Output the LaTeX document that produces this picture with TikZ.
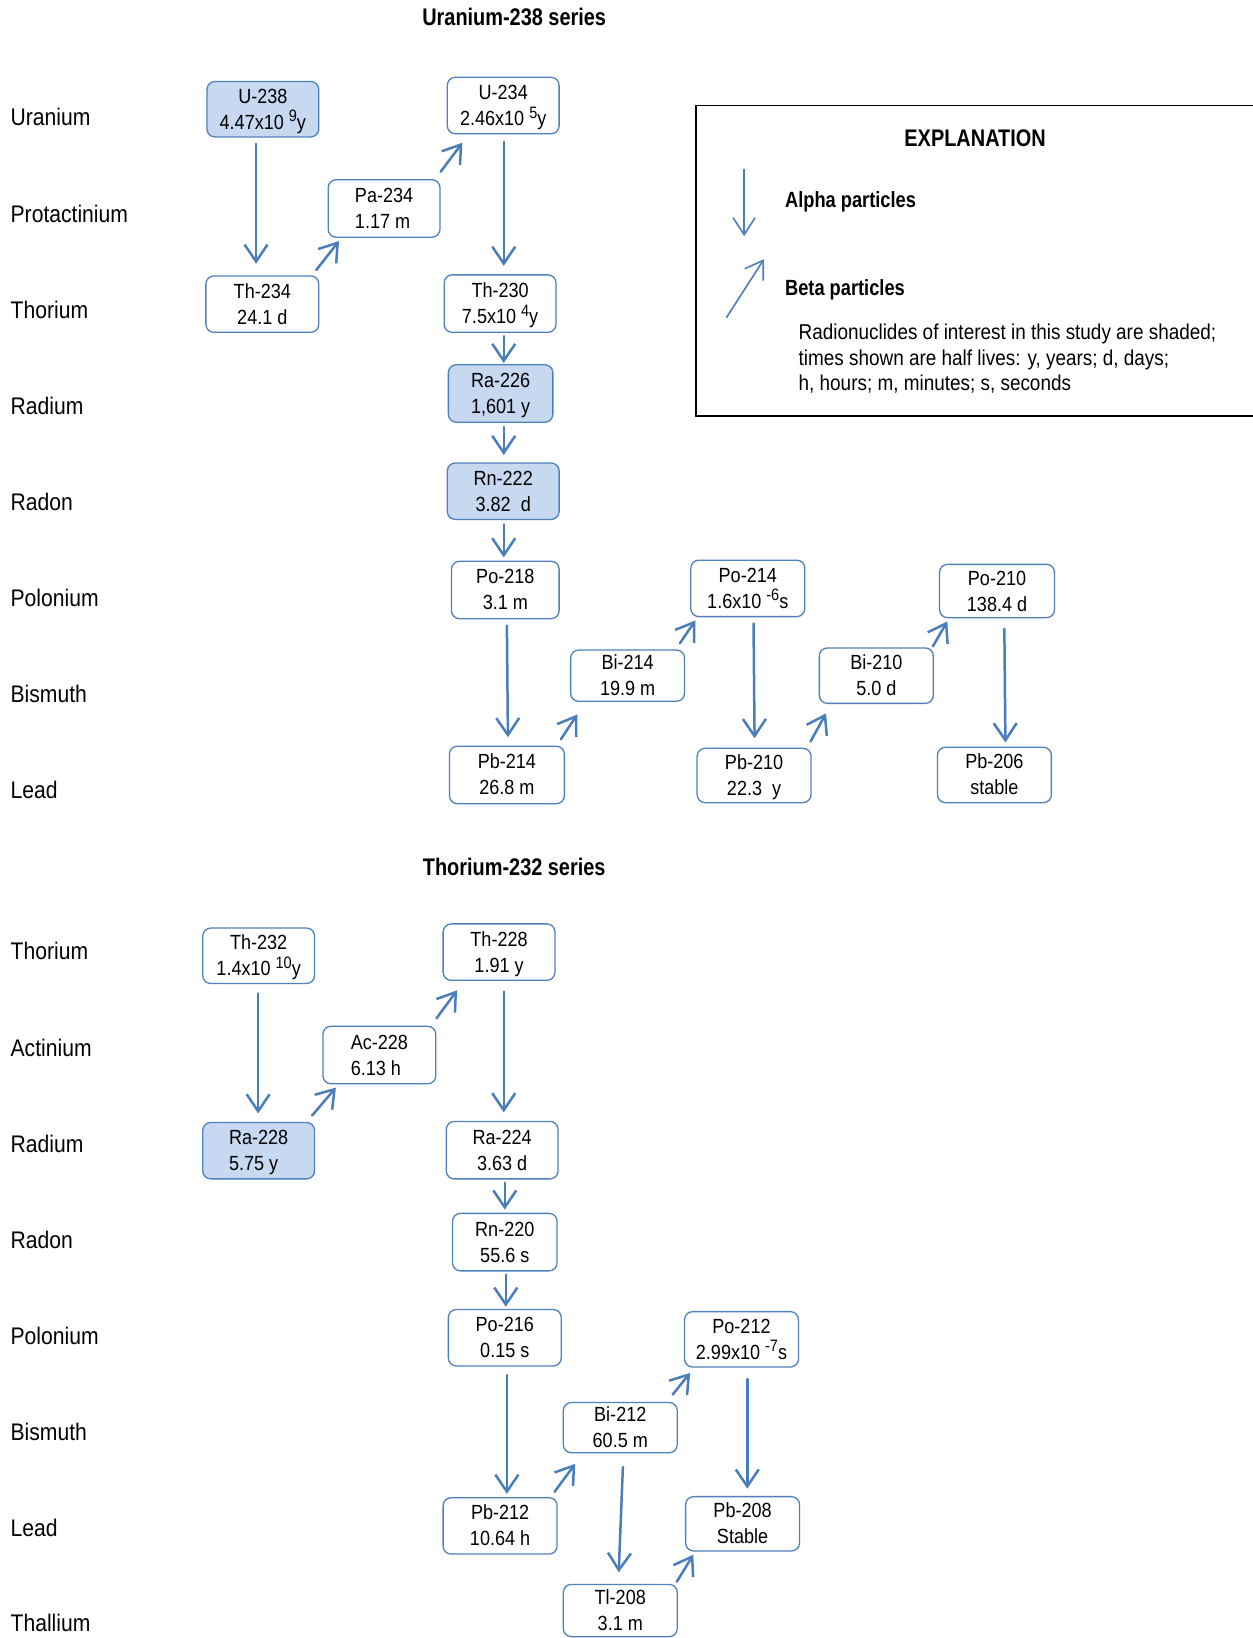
\documentclass[tikz,border=0pt]{standalone}
\usepackage{fontspec}
\setmainfont{Liberation Sans}[FakeStretch=0.88, BoldFeatures={FakeStretch=0.83}]
\usetikzlibrary{arrows.meta}
\definecolor{arrowblue}{RGB}{74,126,187}
\definecolor{boxblue}{RGB}{79,129,189}
\definecolor{shadeblue}{RGB}{198,217,241}
\newcommand\hsup[1]{\raisebox{7.5pt}{\fontsize{16.5}{16.5}\selectfont #1}}
\newcommand\nuctext[2]{\rule{0pt}{18.5pt}#1\\#2\rule[-4.5pt]{0pt}{4.5pt}}
\begin{document}
\begin{tikzpicture}[x=1.0451pt, y=-1.0451pt,
  nuc/.style={draw=boxblue, line width=1.3pt, rounded corners=8pt, inner sep=0pt,
    align=center, fill=white, font=\fontsize{20.5}{26}\selectfont},
  hl/.style={nuc, fill=shadeblue},
  sz/.style 2 args={minimum width={#1*1.0451pt}, minimum height={#2*1.0451pt}},
  decay/.style={draw=arrowblue, line width=2.5pt, line cap=round,
    -{Straight Barb[length=17pt,width=23pt]}},
  legendarrow/.style={draw=arrowblue, line width=1.6pt,
    -{Straight Barb[length=17pt,width=22pt]}},
  elem/.style={anchor=base west, inner sep=0pt, font=\fontsize{24}{28}\selectfont},
  ttl/.style={anchor=base, inner sep=0pt, font=\bfseries\fontsize{24}{28}\selectfont},
  legtxt/.style={anchor=base west, inner sep=0pt, font=\fontsize{21.5}{26}\selectfont},
  legbold/.style={anchor=base west, inner sep=0pt, font=\bfseries\fontsize{22}{26}\selectfont}]
\useasboundingbox[fill=white] (0,0) rectangle (1198,1567.3);

% ---------------- Uranium-238 series ----------------
\node[ttl] (t1) at (492,24) {Uranium-238 series};
\node[elem] (l1) at (10,120.5) {Uranium};
\node[elem] (l2) at (10,212.5) {Protactinium};
\node[elem] (l3) at (10,304.5) {Thorium};
\node[elem] (l4) at (10,396.5) {Radium};
\node[elem] (l5) at (10,488.5) {Radon};
\node[elem] (l6) at (10,580.5) {Polonium};
\node[elem] (l7) at (10,672.5) {Bismuth};
\node[elem] (l8) at (10,764.5) {Lead};

\node[hl, sz={107}{53}] (u238) at (251.5,104.5) {\nuctext{U-238}{4.47x10 \hsup{9}y}};
\node[nuc, sz={107}{54}] (u234) at (481.5,101) {\nuctext{U-234}{2.46x10 \hsup{5}y}};
\node[nuc, align=left, sz={107}{55}] (pa234) at (367.5,199.5) {\nuctext{Pa-234}{1.17 m}};
\node[nuc, sz={108}{54}] (th234) at (251,291) {\nuctext{Th-234}{24.1 d}};
\node[nuc, sz={107}{55}] (th230) at (478.5,290.5) {\nuctext{Th-230}{7.5x10 \hsup{4}y}};
\node[hl, sz={100}{55}] (ra226) at (479,376.5) {\nuctext{Ra-226}{1,601 y}};
\node[hl, sz={107}{54}] (rn222) at (481.5,470) {\nuctext{Rn-222}{3.82~ d}};
\node[nuc, sz={103}{55}] (po218) at (483.5,564.5) {\nuctext{Po-218}{3.1 m}};
\node[nuc, sz={110}{55}] (pb214) at (485,741.5) {\nuctext{Pb-214}{26.8 m}};
\node[nuc, sz={109}{49}] (bi214) at (600.5,646.5) {\nuctext{Bi-214}{19.9 m}};
\node[nuc, sz={109}{54}] (po214) at (715.5,563) {\nuctext{Po-214}{1.6x10 \hsup{-6}s}};
\node[nuc, sz={109}{52}] (pb210) at (721.5,742) {\nuctext{Pb-210}{22.3~ y}};
\node[nuc, sz={109}{53}] (bi210) at (838.5,646.5) {\nuctext{Bi-210}{5.0 d}};
\node[nuc, sz={110}{51}] (po210) at (954,565.5) {\nuctext{Po-210}{138.4 d}};
\node[nuc, sz={109}{53}] (pb206) at (951.5,741.5) {\nuctext{Pb-206}{stable}};

% alpha decays
\draw[decay] ([shift={(-6.5,6)}]u238.south) -- ([shift={(-6,-11)}]th234.north);
\draw[decay] ([shift={(0.5,7)}]u234.south) -- ([shift={(3.5,-8)}]th230.north);
\draw[decay] ([shift={(3.5,3)}]th230.south) -- ([shift={(3,-1)}]ra226.north);
\draw[decay] ([shift={(3,4)}]ra226.south) -- ([shift={(0.5,-7)}]rn222.north);
\draw[decay] ([shift={(0.5,4)}]rn222.south) -- ([shift={(-1.5,-3)}]po218.north);
\draw[decay] ([shift={(1.5,6)}]po218.south) -- ([shift={(1,-8)}]pb214.north);
\draw[decay] ([shift={(5.5,6)}]po214.south) -- ([shift={(0.5,-9)}]pb210.north);
\draw[decay] ([shift={(7,10)}]po210.south) -- ([shift={(10.5,-4)}]pb206.north);
% beta decays
\draw[decay] ([shift={(-3,-5)}]th234.north east) -- ([shift={(11,3)}]pa234.south west);
\draw[decay] ([shift={(0,-7)}]pa234.north east) -- ([shift={(15,8)}]u234.south west);
\draw[decay] ([shift={(-4,-6)}]pb214.north east) -- ([shift={(7,12)}]bi214.south west);
\draw[decay] ([shift={(-5,-6)}]bi214.north east) -- ([shift={(5,3)}]po214.south west);
\draw[decay] ([shift={(-1,-6)}]pb210.north east) -- ([shift={(7,9)}]bi210.south west);
\draw[decay] ([shift={(-1,-1)}]bi210.north east) -- ([shift={(8,3)}]po210.south west);

% ---------------- Explanation ----------------
\draw[line width=1.5pt] (1210,398) -| (666,101) -- (1210,101);
\node[ttl] (ex) at (933,140.3) {EXPLANATION};
\coordinate (aS) at (712,162);
\coordinate (aE) at (712,226);
\draw[legendarrow] (aS) -- (aE);
\coordinate (bS) at (695,304);
\coordinate (bE) at (731,248);
\draw[legendarrow] (bS) -- (bE);
\node[legbold] (alab) at (751,198.7) {Alpha particles};
\node[legbold] (blab) at (751,282.3) {Beta particles};
\node[legtxt] (n1) at (764,325.3) {Radionuclides of interest in this study are shaded;};
\node[legtxt] (n2) at (764,349.3) {times shown are half lives: y, years; d, days;};
\node[legtxt] (n3) at (764,373.2) {h, hours; m, minutes; s, seconds};

% ---------------- Thorium-232 series ----------------
\node[ttl] (t2) at (492,838) {Thorium-232 series};
\node[elem] (m1) at (10,918.5) {Thorium};
\node[elem] (m2) at (10,1010.5) {Actinium};
\node[elem] (m3) at (10,1102.5) {Radium};
\node[elem] (m4) at (10,1194.5) {Radon};
\node[elem] (m5) at (10,1286.5) {Polonium};
\node[elem] (m6) at (10,1378.5) {Bismuth};
\node[elem] (m7) at (10,1470.5) {Lead};
\node[elem] (m8) at (10,1561.5) {Thallium};

\node[nuc, sz={107}{53}] (th232) at (247.5,914.5) {\nuctext{Th-232}{1.4x10 \hsup{10}y}};
\node[nuc, sz={107}{54}] (th228) at (477.5,911) {\nuctext{Th-228}{1.91 y}};
\node[nuc, align=left, sz={108}{55}] (ac228) at (363,1009.5) {\nuctext{Ac-228}{6.13 h}};
\node[hl, align=left, sz={107}{54}] (ra228) at (247.5,1101) {\nuctext{Ra-228}{5.75 y}};
\node[nuc, sz={107}{55}] (ra224) at (480.5,1100.5) {\nuctext{Ra-224}{3.63 d}};
\node[nuc, sz={100}{55}] (rn220) at (483,1188.5) {\nuctext{Rn-220}{55.6 s}};
\node[nuc, sz={108}{54}] (po216) at (483,1280) {\nuctext{Po-216}{0.15 s}};
\node[nuc, sz={109}{53}] (po212) at (709.5,1281.5) {\nuctext{Po-212}{2.99x10 \hsup{-7}s}};
\node[nuc, sz={109}{48}] (bi212) at (593.5,1366) {\nuctext{Bi-212}{60.5 m}};
\node[nuc, sz={109}{54}] (pb212) at (478.5,1460) {\nuctext{Pb-212}{10.64 h}};
\node[nuc, sz={109}{52}] (pb208) at (710.5,1458) {\nuctext{Pb-208}{Stable}};
\node[nuc, sz={109}{50}] (tl208) at (593.5,1541) {\nuctext{Tl-208}{3.1 m}};

% alpha decays
\draw[decay] ([shift={(-0.5,9)}]th232.south) -- ([shift={(-0.5,-8)}]ra228.north);
\draw[decay] ([shift={(4.5,10)}]th228.south) -- ([shift={(1.5,-8)}]ra224.north);
\draw[decay] ([shift={(2.5,3)}]ra224.south) -- ([shift={(0,-3)}]rn220.north);
\draw[decay] ([shift={(1,3)}]rn220.south) -- ([shift={(1,-2)}]po216.north);
\draw[decay] ([shift={(2,8)}]po216.south) -- ([shift={(6.5,-3)}]pb212.north);
\draw[decay] ([shift={(5.5,11)}]po212.south) -- ([shift={(4.5,-7)}]pb208.north);
\draw[decay] ([shift={(2.5,13)}]bi212.south) -- ([shift={(-1.5,-11)}]tl208.north);
% beta decays
\draw[decay] ([shift={(-3,-6)}]ra228.north east) -- ([shift={(13,3)}]ac228.south west);
\draw[decay] ([shift={(0,-7)}]ac228.north east) -- ([shift={(14,9)}]th228.south west);
\draw[decay] ([shift={(-3,-5)}]pb212.north east) -- ([shift={(12,10)}]bi212.south west);
\draw[decay] ([shift={(-5,-7)}]bi212.north east) -- ([shift={(6,5)}]po212.south west);
\draw[decay] ([shift={(-1,-2)}]tl208.north east) -- ([shift={(8,3)}]pb208.south west);
\end{tikzpicture}
\end{document}
